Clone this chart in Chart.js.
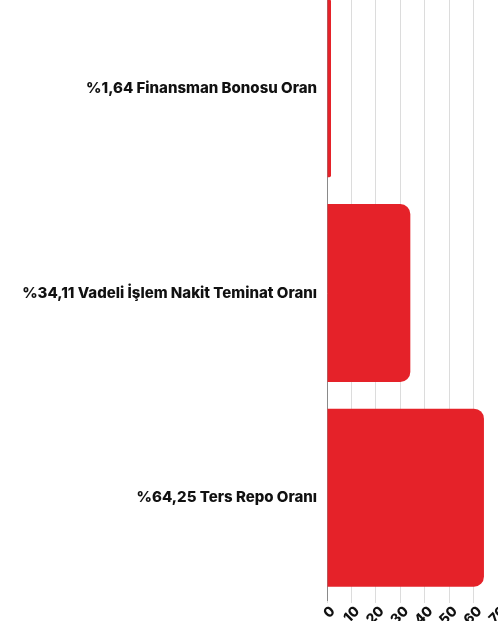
<!DOCTYPE html>
<html>
<head>
<meta charset="utf-8">
<script src="https://cdn.jsdelivr.net/npm/chart.js@4"></script>
<style>
    html, body { margin: 0; padding: 0; background: #ffffff; overflow: hidden; }
    body { width: 498px; height: 621px; position: relative; }
    #wrap { position: absolute; left: 0; top: -14px; width: 498px; height: 635px; }
</style>
</head>
<body>
<div id="wrap"><canvas id="rateChart"></canvas></div>
<script>
const categories = [
    '%1,64 Finansman Bonosu Oran',
    '%34,11 Vadeli İşlem Nakit Teminat Oranı',
    '%64,25 Ters Repo Oranı'
];
const rateValues = [1.64, 34.11, 64.25];
const axisMin = 0;
const axisMax = 70;
const axisStep = 10;

const ctx = document.getElementById('rateChart').getContext('2d');

new Chart(ctx, {
    type: 'bar',
    data: {
        labels: categories,
        datasets: [{
            data: rateValues,
            backgroundColor: '#e52229',
            borderRadius: 10,
            categoryPercentage: 0.87,
            barPercentage: 1
        }]
    },
    options: {
        indexAxis: 'y',
        responsive: true,
        maintainAspectRatio: false,
        animation: false,
        layout: { padding: 0 },
        scales: {
            x: {
                min: axisMin,
                max: axisMax,
                ticks: {
                    stepSize: axisStep,
                    autoSkip: false,
                    minRotation: 45,
                    maxRotation: 45,
                    padding: 0,
                    labelOffset: 6,
                    color: '#111111',
                    font: { family: 'Inter', size: 14, weight: 800 }
                },
                grid: { color: '#dcdcdc', lineWidth: 1, tickLength: 3 },
                border: { display: false },
                afterFit: scale => {
                    scale.height = 21;
                    scale.paddingLeft = 0;
                    scale.paddingRight = 0;
                }
            },
            y: {
                ticks: {
                    padding: 10,
                    color: '#111111',
                    font: { family: 'Inter', size: 15, weight: 800 }
                },
                grid: { display: false, drawTicks: false },
                border: { display: true, color: '#8a8a8a', width: 1 },
                afterFit: scale => {
                    scale.width = 327;
                    scale.paddingTop = 0;
                    scale.paddingBottom = 0;
                }
            }
        },
        plugins: {
            legend: { display: false },
            tooltip: { enabled: false }
        }
    }
});
</script>
</body>
</html>
